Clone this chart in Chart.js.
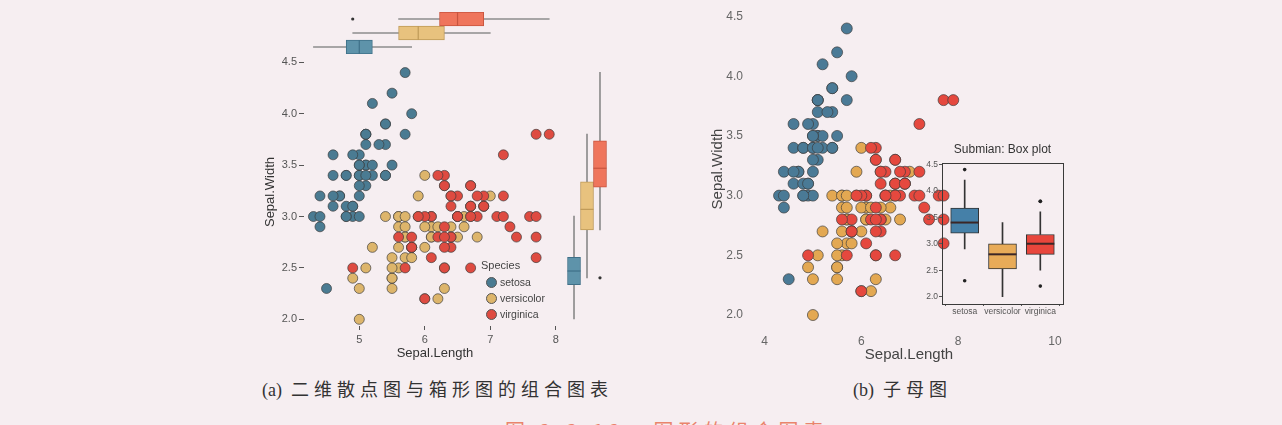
<!DOCTYPE html>
<html>
<head>
<meta charset="utf-8">
<script src="https://cdn.jsdelivr.net/npm/chart.js@4.4.1/dist/chart.umd.min.js"></script>
<style>
  html, body { margin: 0; padding: 0; background: #f6eef1; }
  body { width: 1282px; height: 425px; position: relative; overflow: hidden; font-family: "Liberation Sans", Arial, sans-serif; }
  canvas { position: absolute; }
  .txt { position: absolute; white-space: nowrap; }
  .cap { font-size: 18px; line-height: 24px; color: #333; font-family: "Noto Sans CJK SC", sans-serif; letter-spacing: 5px; }
  .cap .lat { font-family: "Liberation Serif", serif; letter-spacing: 0; }
  .dot { position: absolute; width: 9px; height: 9px; border-radius: 50%; border: 0.8px solid #555; }
</style>
</head>
<body>
<canvas id="scatterA" width="307" height="365" style="left:259px;top:0px"></canvas>
<canvas id="topBoxA" width="262" height="42" style="left:304px;top:12px"></canvas>
<canvas id="sideBoxA" width="40" height="270" style="left:567px;top:60px"></canvas>
<canvas id="scatterB" width="363" height="368" style="left:705px;top:0px"></canvas>
<canvas id="insetB" width="150" height="181" style="left:915px;top:139px"></canvas>
<div id="legendA"></div>
<div class="txt cap" style="left:262px;top:376px"><span class="lat">(a)</span> 二维散点图与箱形图的组合图表</div>
<div class="txt cap" style="left:853px;top:376px"><span class="lat">(b)</span> 子母图</div>
<div class="txt cap" style="left:505px;top:419px;color:#ea846c;font-size:20px">图 2.3.12&nbsp;&nbsp;&nbsp;图形的组合图表</div>

<script>
// ---- data: iris sepal measurements per species ----
const species = ['setosa', 'versicolor', 'virginica'];

const setosaSL = [5.1,4.9,4.7,4.6,5.0,5.4,4.6,5.0,4.4,4.9,5.4,4.8,4.8,4.3,5.8,5.7,5.4,5.1,5.7,5.1,5.4,5.1,4.6,5.1,4.8,5.0,5.0,5.2,5.2,4.7,4.8,5.4,5.2,5.5,4.9,5.0,5.5,4.9,4.4,5.1,5.0,4.5,4.4,5.0,5.1,4.8,5.1,4.6,5.3,5.0];
const setosaSW = [3.5,3.0,3.2,3.1,3.6,3.9,3.4,3.4,2.9,3.1,3.7,3.4,3.0,3.0,4.0,4.4,3.9,3.5,3.8,3.8,3.4,3.7,3.6,3.3,3.4,3.0,3.4,3.5,3.4,3.2,3.1,3.4,4.1,4.2,3.1,3.2,3.5,3.6,3.0,3.4,3.5,2.3,3.2,3.5,3.8,3.0,3.8,3.2,3.7,3.3];
const versicolorSL = [7.0,6.4,6.9,5.5,6.5,5.7,6.3,4.9,6.6,5.2,5.0,5.9,6.0,6.1,5.6,6.7,5.6,5.8,6.2,5.6,5.9,6.1,6.3,6.1,6.4,6.6,6.8,6.7,6.0,5.7,5.5,5.5,5.8,6.0,5.4,6.0,6.7,6.3,5.6,5.5,5.5,6.1,5.8,5.0,5.6,5.7,5.7,6.2,5.1,5.7];
const versicolorSW = [3.2,3.2,3.1,2.3,2.8,2.8,3.3,2.4,2.9,2.7,2.0,3.0,2.2,2.9,2.9,3.1,3.0,2.7,2.2,2.5,3.2,2.8,2.5,2.8,2.9,3.0,2.8,3.0,2.9,2.6,2.4,2.4,2.7,2.7,3.0,3.4,3.1,2.3,3.0,2.5,2.6,3.0,2.6,2.3,2.7,3.0,2.9,2.9,2.5,2.8];
const virginicaSL = [6.3,5.8,7.1,6.3,6.5,7.6,4.9,7.3,6.7,7.2,6.5,6.4,6.8,5.7,5.8,6.4,6.5,7.7,7.7,6.0,6.9,5.6,7.7,6.3,6.7,7.2,6.2,6.1,6.4,7.2,7.4,7.9,6.4,6.3,6.1,7.7,6.3,6.4,6.0,6.9,6.7,6.9,5.8,6.8,6.7,6.7,6.3,6.5,6.2,5.9];
const virginicaSW = [3.3,2.7,3.0,2.9,3.0,3.0,2.5,2.9,2.5,3.6,3.2,2.7,3.0,2.5,2.8,3.2,3.0,3.8,2.6,2.2,3.2,2.8,2.8,2.7,3.3,3.2,2.8,3.0,2.8,3.0,2.8,3.8,2.8,2.8,2.6,3.0,3.4,3.1,3.0,3.1,3.1,3.1,2.7,3.2,3.3,3.0,2.5,3.0,3.4,3.0];

// box statistics of the marginal plots in (a): Sepal.Length
const slLow  = [4.3, 4.9, 5.6];
const slQ1   = [4.8, 5.6, 6.225];
const slMed  = [5.0, 5.9, 6.5];
const slQ3   = [5.2, 6.3, 6.9];
const slHigh = [5.8, 7.0, 7.9];
const slOut  = [[], [], [4.9]];

// box statistics of the inset in (b): Sepal.Width
const swLow  = [2.9, 2.0, 2.5];
const swQ1   = [3.2, 2.525, 2.8];
const swMed  = [3.4, 2.8, 3.0];
const swQ3   = [3.675, 3.0, 3.175];
const swHigh = [4.2, 3.4, 3.6];
const swOut  = [[4.4, 2.3], [], [3.8, 3.8, 2.2]];

// tick labels
const xTicksA = [5, 6, 7, 8];
const yTicksA = [2.0, 2.5, 3.0, 3.5, 4.0, 4.5];
const xTicksB = [4, 6, 8, 10];
const yTicksB = [2.0, 2.5, 3.0, 3.5, 4.0, 4.5];
const yTicksInset = [2.0, 2.5, 3.0, 3.5, 4.0, 4.5];
const insetPositions = [1, 2, 3];

const slBySpecies = [setosaSL, versicolorSL, virginicaSL];
const swBySpecies = [setosaSW, versicolorSW, virginicaSW];

// ---- styles ----
const colorsA = ['#4a7b92', '#ddb56b', '#de4b41'];
const colorsB = ['#4a7a96', '#e3a852', '#e5483e'];
const margFill = ['#5e93aa', '#e8c27e', '#ef755c'];
const margEdge = ['#3f7088', '#bf9a58', '#c8553f'];
const insetFill = ['#4580a8', '#e8ab58', '#e8463c'];

Chart.defaults.font.family = "'Liberation Sans', Arial, sans-serif";

function axis(o) {
  return {
    type: 'linear', min: o.min, max: o.max, offset: false,
    afterBuildTicks: a => { a.ticks = o.ticks.map(v => ({ value: v })); },
    afterFit: a => {
      if (a.isHorizontal()) a.height = o.size; else a.width = o.size;
      a.paddingTop = a.paddingBottom = a.paddingLeft = a.paddingRight = 0;
    },
    border: { display: false },
    grid: { display: o.tick > 0, drawOnChartArea: false, drawTicks: o.tick > 0,
            tickLength: o.tick, tickColor: '#555', tickWidth: 1 },
    ticks: { padding: o.pad, color: o.color || '#555', font: { size: o.font },
             maxRotation: 0, autoSkip: false, callback: o.fmt },
    title: { display: !!o.title, text: o.title, color: o.titleColor || '#333',
             font: { size: o.titleSize }, padding: { top: 4, bottom: 4 } }
  };
}

function scatterChart(id, o) {
  new Chart(document.getElementById(id), {
    type: 'scatter',
    data: {
      datasets: species.map((s, k) => ({
        label: s,
        data: slBySpecies[k].map((x, i) => ({ x, y: swBySpecies[k][i] })),
        pointBackgroundColor: o.colors[k],
        pointBorderColor: 'rgba(60,60,60,0.85)',
        pointBorderWidth: 0.8,
        pointRadius: o.r,
        order: 3 - k
      }))
    },
    options: {
      responsive: false, animation: false, events: [],
      layout: { padding: o.pad, autoPadding: false },
      plugins: { legend: { display: false }, tooltip: { enabled: false } },
      scales: { x: axis(o.x), y: axis(o.y) }
    }
  });
}

function boxChart(id, o) {
  const h = o.horizontal;
  const mk = (i, v) => h ? { x: v, y: i + 1 } : { x: i + 1, y: v };
  const datasets = [
    { type: 'bar', data: o.low.map((v, i) => mk(i, [v, o.q1[i]])), backgroundColor: o.whisker,
      barThickness: 1, grouped: false, order: 4 },
    { type: 'bar', data: o.high.map((v, i) => mk(i, [o.q3[i], v])), backgroundColor: o.whisker,
      barThickness: 1, grouped: false, order: 4 },
    { type: 'bar', data: o.q1.map((v, i) => mk(i, [v, o.q3[i]])), backgroundColor: o.fill,
      borderColor: o.edge, borderWidth: o.edgeWidth, borderSkipped: false,
      barThickness: o.thick, grouped: false, order: 3 },
    { type: 'scatter', data: o.med.map((v, i) => mk(i, v)), pointStyle: 'line',
      pointRadius: o.thick / 2, pointBorderColor: o.medColor, pointBorderWidth: o.medWidth,
      pointRotation: h ? 90 : 0, order: 2, clip: false },
    { type: 'scatter', data: o.out.flatMap((arr, i) => arr.map(v => mk(i, v))),
      pointRadius: o.outR, pointBackgroundColor: o.outColor, pointBorderWidth: 0, order: 1, clip: false }
  ];
  new Chart(document.getElementById(id), {
    type: 'bar',
    data: { datasets },
    options: {
      indexAxis: h ? 'y' : 'x',
      responsive: false, animation: false, events: [],
      layout: { padding: o.pad || 0, autoPadding: false },
      plugins: { legend: { display: false }, tooltip: { enabled: false }, title: o.title || { display: false } },
      scales: o.scales
    },
    plugins: o.plugins || []
  });
}

// ---- (a) scatter ----
scatterChart('scatterA', {
  colors: colorsA, r: 5, pad: { top: 58, right: 0, bottom: 0, left: 0 },
  x: { min: 4.156, max: 8.156, ticks: xTicksA, size: 39, tick: 4, pad: 3, font: 11,
       fmt: v => String(v), title: 'Sepal.Length', titleSize: 13 },
  y: { min: 1.935, max: 4.542, ticks: yTicksA, size: 45, tick: 5, pad: 2, font: 11,
       fmt: v => v.toFixed(1), title: 'Sepal.Width', titleSize: 13 }
});

// top marginal: horizontal boxes of Sepal.Length
boxChart('topBoxA', {
  horizontal: true, low: slLow, q1: slQ1, med: slMed, q3: slQ3, high: slHigh, out: slOut,
  fill: margFill, edge: margEdge, edgeWidth: 1, whisker: '#8c8c8c', thick: 14,
  medColor: margEdge, medWidth: 1.2, outR: 1.6, outColor: '#333',
  scales: {
    x: { type: 'linear', display: false, offset: false, min: 4.156, max: 8.156 },
    y: { type: 'linear', display: false, offset: false, min: 0.5, max: 3.5 }
  }
});

// right marginal: vertical boxes of Sepal.Length
boxChart('sideBoxA', {
  horizontal: false, low: slLow, q1: slQ1, med: slMed, q3: slQ3, high: slHigh, out: slOut,
  fill: margFill, edge: margEdge, edgeWidth: 1, whisker: '#8c8c8c', thick: 13,
  medColor: margEdge, medWidth: 1.2, outR: 1.6, outColor: '#333',
  scales: {
    x: { type: 'linear', display: false, offset: false, min: 0.46, max: 3.54 },
    y: { type: 'linear', display: false, offset: false, min: 4.139, max: 8.080 }
  }
});

// legend of (a)
(function () {
  const box = document.getElementById('legendA');
  let html = '<div class="txt" style="left:481px;top:258px;font-size:11px;line-height:14px;color:#444">Species</div>';
  species.forEach((s, k) => {
    const cy = 282 + k * 15.8;
    html += '<span class="dot" style="left:485.5px;top:' + (cy - 5) + 'px;background:' + colorsA[k] + '"></span>';
    html += '<div class="txt" style="left:500px;top:' + (cy - 7) + 'px;font-size:10.5px;line-height:14px;color:#444">' + s + '</div>';
  });
  box.innerHTML = html;
})();

// ---- (b) scatter ----
scatterChart('scatterB', {
  colors: colorsB, r: 5.5, pad: { top: 4, right: 0, bottom: 0, left: 0 },
  x: { min: 3.700, max: 10.271, ticks: xTicksB, size: 34, tick: 0, pad: 0, font: 12, color: '#666',
       fmt: v => String(v), title: 'Sepal.Length', titleSize: 15, titleColor: '#444' },
  y: { min: 1.841, max: 4.605, ticks: yTicksB, size: 45, tick: 0, pad: 7, font: 12, color: '#666',
       fmt: v => v.toFixed(1), title: 'Sepal.Width', titleSize: 15, titleColor: '#444' }
});

// inset box plot of Sepal.Width
const framePlugin = {
  id: 'frame',
  afterDraw(chart) {
    const { ctx, chartArea: a } = chart;
    ctx.save();
    ctx.strokeStyle = '#3a3a3a';
    ctx.lineWidth = 1;
    ctx.strokeRect(Math.round(a.left) + 0.5, Math.round(a.top) + 0.5,
                   Math.round(a.right - a.left), Math.round(a.bottom - a.top));
    ctx.restore();
  }
};

boxChart('insetB', {
  horizontal: false, low: swLow, q1: swQ1, med: swMed, q3: swQ3, high: swHigh, out: swOut,
  fill: insetFill, edge: '#333', edgeWidth: 1, whisker: '#333', thick: 28,
  medColor: '#3b2626', medWidth: 2, outR: 1.8, outColor: '#222',
  pad: { top: 0, right: 2, bottom: 0, left: 0 },
  title: { display: true, text: 'Submian: Box plot', fullSize: false, color: '#333',
           font: { size: 12, weight: 'normal' }, padding: { top: 3.8, bottom: 5.6 } },
  scales: {
    x: axis({ min: 0.4, max: 3.6, ticks: insetPositions, size: 16, tick: 2, pad: 1, font: 8.5,
              fmt: v => species[v - 1] }),
    y: axis({ min: 1.862, max: 4.528, ticks: yTicksInset, size: 27, tick: 3, pad: 1, font: 8.5,
              fmt: v => v.toFixed(1) })
  },
  plugins: [framePlugin]
});
</script>
</body>
</html>
